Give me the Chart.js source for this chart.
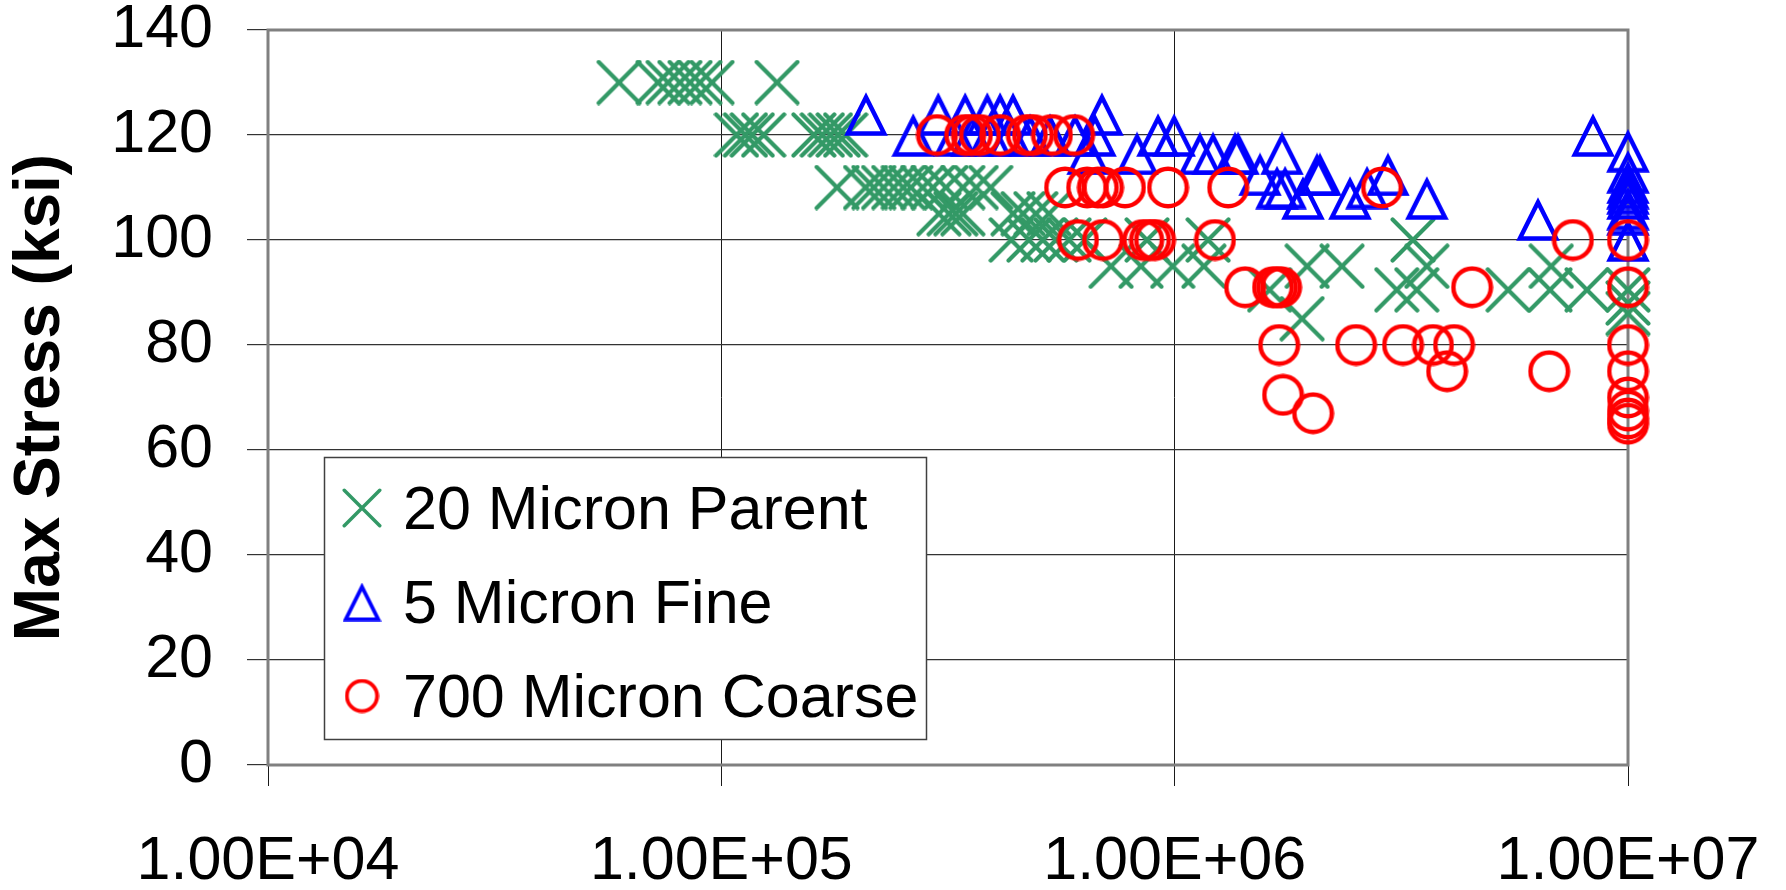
<!DOCTYPE html>
<html>
<head>
<meta charset="utf-8">
<script src="https://cdn.jsdelivr.net/npm/chart.js@4/dist/chart.umd.min.js"></script>
<style>
  html, body { margin: 0; padding: 0; background: #ffffff; }
  canvas { display: block; }
</style>
</head>
<body>
<canvas id="fatigue" width="1786" height="890"></canvas>
<script>
// Fatigue results: cycles to failure (run-outs stop at 1E+07) vs. max stress (ksi)
const seriesNames = ['20 Micron Parent', '5 Micron Fine', '700 Micron Coarse'];

const parentCycles = [
  59500, 72500, 76300, 81000, 85300, 89700, 95400, 132700,
  108000, 113000, 117000, 124000, 160000, 167000, 174000, 181000, 188000,
  180000, 208000, 217000, 228000, 240000, 252000, 262000, 278000, 293000, 313000, 341000, 365000, 393000,
  302000, 318000, 329000, 341000, 440000, 463000, 494000, 528000,
  436000, 477000, 512000, 547000, 585000, 634000, 869000, 1185000, 3355000,
  724000, 843000, 990000, 1160000, 1960000, 2340000, 3600000, 6770000,
  1620000, 3090000, 3420000, 5440000, 6730000, 8120000, 10000000, 10000000,
  1910000, 10000000
];
const parentStress = [
  130, 130, 130, 130, 130, 130, 130, 130,
  120, 120, 120, 120, 120, 120, 120, 120, 120,
  110, 110, 110, 110, 110, 110, 110, 110, 110, 110, 110, 110, 110,
  105, 105, 105, 105, 105, 105, 105, 105,
  100, 100, 100, 100, 100, 100, 100, 100, 100,
  95, 95, 95, 95, 95, 95, 95, 95,
  90.5, 90.5, 90.5, 90.5, 90.5, 90.5, 90.5, 88,
  85, 86
];

const fineCycles = [
  208500, 301000, 345000, 386000, 412000, 440000, 691000,
  265000, 328000, 357000, 391000, 433000, 480000, 531000, 603000, 667000, 919000, 997000, 8370000,
  644000, 826000, 1137000, 1215000, 1359000, 1380000, 1725000, 10000000,
  1543000, 2061000, 2092000, 2955000, 10000000,
  1682000, 1752000, 2657000, 10000000, 10000000,
  1919000, 2437000, 3600000, 10000000, 10000000,
  6330000, 10000000,
  10000000, 10000000
];
const fineStress = [
  124, 124, 124, 124, 124, 124, 124,
  120, 120, 120, 120, 120, 120, 120, 120, 120, 120, 120, 120,
  116.5, 116.5, 116.5, 116.5, 116.5, 116.5, 116.5, 117,
  112.5, 112.5, 112.5, 112.5, 113,
  110, 110, 110, 111, 110,
  108, 108, 108, 108, 109,
  104, 105,
  106, 100
];

const coarseCycles = [
  299000, 345000, 357000, 372000, 412000, 472000, 487000, 536000, 600000,
  573000, 641000, 677000, 695000, 777000, 967000, 1312000, 2867000,
  612000, 695000, 852000, 882000, 905000, 1227000, 7560000, 10000000,
  1430000, 1648000, 1682000, 1717000, 4530000, 10000000,
  1700000, 2513000, 3190000, 3714000, 4133000, 10000000,
  3990000, 6700000, 10000000,
  1734000, 10000000,
  2020000, 10000000,
  10000000, 10000000
];
const coarseStress = [
  120, 120, 120, 120, 120, 120, 120, 120, 120,
  110, 110, 110, 110, 110, 110, 110, 110,
  100, 100, 100, 100, 100, 100, 100, 100,
  91, 91, 91, 91, 91, 91,
  80, 80, 80, 80, 80, 80,
  75, 75, 75,
  70.5, 70,
  67, 67.5,
  66, 65
];

const xTickValues = [1e4, 1e5, 1e6, 1e7];
const xTickLabels = ['1.00E+04', '1.00E+05', '1.00E+06', '1.00E+07'];
const yTickStep = 20;

const FONT = '"Liberation Sans", Arial, Helvetica, sans-serif';
const GREEN = '#339966', BLUE = '#0000ff', RED = '#ff0000';

// Marker sprites (outline X, triangle and circle)
function makeCross(size, lw, color) {
  const c = document.createElement('canvas');
  c.width = c.height = size;
  const g = c.getContext('2d');
  g.strokeStyle = color; g.lineWidth = lw; g.lineCap = 'round';
  const p = lw / 2 + 0.5;
  g.beginPath();
  g.moveTo(p, p); g.lineTo(size - p, size - p);
  g.moveTo(size - p, p); g.lineTo(p, size - p);
  g.stroke();
  return c;
}
function makeTriangle(size, lw, color) {
  const c = document.createElement('canvas');
  c.width = c.height = size;
  const g = c.getContext('2d');
  g.strokeStyle = color; g.lineWidth = lw; g.lineJoin = 'miter';
  const top = lw * 1.15, bot = size - lw * 0.55, side = lw * 0.85;
  g.beginPath();
  g.moveTo(size / 2, top);
  g.lineTo(size - side, bot);
  g.lineTo(side, bot);
  g.closePath();
  g.stroke();
  return c;
}
function makeCircle(size, lw, color) {
  const c = document.createElement('canvas');
  c.width = c.height = size;
  const g = c.getContext('2d');
  g.strokeStyle = color; g.lineWidth = lw;
  g.beginPath();
  g.arc(size / 2, size / 2, size / 2 - lw / 2 - 0.5, 0, Math.PI * 2);
  g.stroke();
  return c;
}

const markers = [makeCross(46, 4.2, GREEN), makeTriangle(44, 4.5, BLUE), makeCircle(43, 4.5, RED)];
const legendMarkers = [makeCross(40, 3.5, GREEN), makeTriangle(39, 3.8, BLUE), makeCircle(35, 3.8, RED)];

function toPoints(xs, ys) { return xs.map((x, i) => ({ x: x, y: ys[i] })); }

const seriesData = [
  toPoints(parentCycles, parentStress),
  toPoints(fineCycles, fineStress),
  toPoints(coarseCycles, coarseStress)
];
const drawOrder = [2, 1, 0]; // coarse drawn on top, parent underneath

// Plot-area frame
const framePlugin = {
  id: 'frame',
  beforeDatasetsDraw(chart) {
    const a = chart.chartArea, ctx = chart.ctx;
    ctx.save();
    ctx.strokeStyle = '#808080';
    ctx.lineWidth = 3;
    ctx.strokeRect(a.left, a.top, a.right - a.left, a.bottom - a.top);
    ctx.restore();
  }
};

// Boxed legend inside the plot, lower left
const legendPlugin = {
  id: 'boxLegend',
  afterDatasetsDraw(chart) {
    const ctx = chart.ctx;
    const box = { left: 324, top: 457, width: 602, height: 282 };
    ctx.save();
    ctx.fillStyle = '#ffffff';
    ctx.fillRect(box.left, box.top, box.width, box.height);
    ctx.strokeStyle = '#404040';
    ctx.lineWidth = 1.5;
    ctx.strokeRect(box.left + 0.5, box.top + 0.5, box.width, box.height);
    ctx.font = '61px ' + FONT;
    ctx.fillStyle = '#000000';
    ctx.textAlign = 'left';
    ctx.textBaseline = 'alphabetic';
    chart.data.datasets.forEach((ds, i) => {
      const cy = box.top + 51 + i * 94;
      const m = legendMarkers[i];
      ctx.drawImage(m, 362 - m.width / 2, cy - m.height / 2);
      ctx.fillText(ds.label, 403, cy + 21);
    });
    ctx.restore();
  }
};

new Chart(document.getElementById('fatigue'), {
  type: 'scatter',
  data: {
    datasets: seriesNames.map((name, i) => ({
      label: name,
      data: seriesData[i],
      pointStyle: markers[i],
      pointRadius: 22,
      pointHoverRadius: 22,
      showLine: false,
      clip: false,
      order: drawOrder[i]
    }))
  },
  options: {
    responsive: false,
    animation: false,
    devicePixelRatio: 1,
    layout: { padding: { left: 0, top: 30, right: 158, bottom: 0 } },
    plugins: {
      legend: { display: false },
      tooltip: { enabled: false }
    },
    scales: {
      x: {
        type: 'logarithmic',
        min: xTickValues[0],
        max: xTickValues[xTickValues.length - 1],
        afterBuildTicks: (s) => { s.ticks = xTickValues.map(v => ({ value: v })); },
        afterFit: (s) => { s.height = 125; s.paddingLeft = 0; s.paddingRight = 0; },
        ticks: {
          autoSkip: false,
          maxRotation: 0,
          padding: 46,
          color: '#000000',
          font: { family: FONT, size: 61, lineHeight: 1 },
          callback: (v, i) => xTickLabels[i]
        },
        grid: { color: '#1a1a1a', lineWidth: 1, tickLength: 21, drawTicks: true },
        border: { display: false }
      },
      y: {
        min: 0,
        max: 140,
        afterFit: (s) => { s.width = 268; s.paddingTop = 0; s.paddingBottom = 0; },
        ticks: {
          stepSize: yTickStep,
          padding: 34,
          color: '#000000',
          font: { family: FONT, size: 61, lineHeight: 1 }
        },
        grid: { color: '#333333', lineWidth: 1.2, tickLength: 21, drawTicks: true },
        border: { display: false },
        title: {
          display: true,
          text: 'Max Stress (ksi)',
          color: '#000000',
          font: { family: FONT, size: 64, weight: 'bold' },
          padding: { top: 3, bottom: 0 }
        }
      }
    }
  },
  plugins: [framePlugin, legendPlugin]
});
</script>
</body>
</html>
